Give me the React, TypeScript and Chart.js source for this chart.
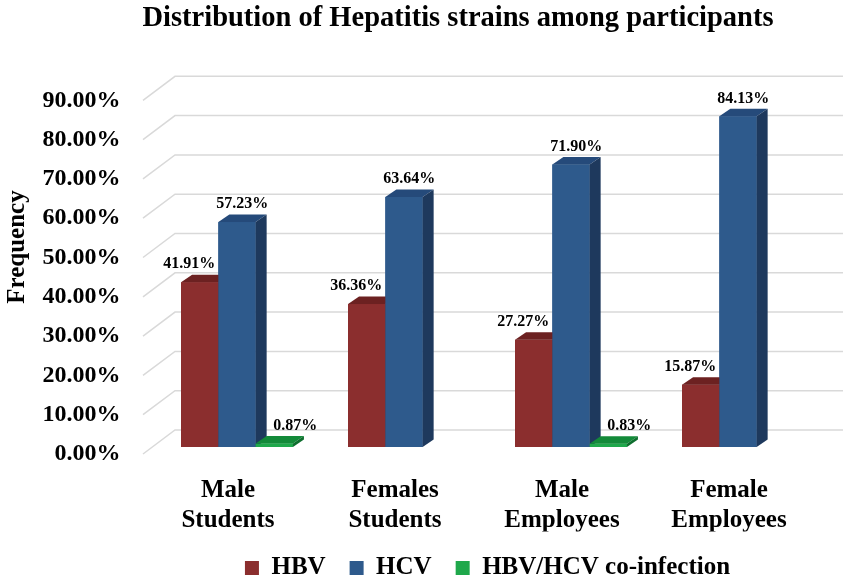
import React, { useEffect, useRef } from "react";
import { Chart, registerables } from "chart.js";

Chart.register(...registerables);

const categories: string[][] = [
  ["Male", "Students"],
  ["Females", "Students"],
  ["Male", "Employees"],
  ["Female", "Employees"],
];
const hbvValues = [41.91, 36.36, 27.27, 15.87];
const hcvValues = [57.23, 63.64, 71.9, 84.13];
const coinfectionValues = [0.87, 0, 0.83, 0];
const seriesNames = ["HBV", "HCV", "HBV/HCV co-infection"];
const titleText = "Distribution of Hepatitis strains among participants";
const yAxisTitle = "Frequency";

const FONT = "'Liberation Serif', 'Times New Roman', serif";
const DEPTH_X = 11;
const DEPTH_Y = 7.5;

const faceColors = [
  { front: "#8B2E2E", top: "#6C2121", side: "#5A1B1B" },
  { front: "#2E5A8C", top: "#254A7A", side: "#1E395D" },
  { front: "#1FA84B", top: "#138A39", side: "#0E6E2E" },
];
const labelShift = [-10.5, 5.2, 21];

const wallPlugin = {
  id: "wall",
  beforeDatasetsDraw(chart: any) {
    const { ctx, chartArea, scales } = chart;
    const y = scales.y;
    ctx.save();
    ctx.strokeStyle = "#D9D9D9";
    ctx.lineWidth = 1.5;
    const backX = chartArea.left + 21.5;
    const frontX = chartArea.left - 10.5;
    const rightX = chartArea.right + 21.5;
    y.ticks.forEach((t: any) => {
      const p = y.getPixelForValue(t.value);
      ctx.beginPath();
      ctx.moveTo(frontX, p + 7);
      ctx.lineTo(backX, p - 17);
      ctx.lineTo(rightX, p - 17);
      ctx.stroke();
    });
    ctx.restore();
  },
};

const bar3dPlugin = {
  id: "bar3d",
  afterDatasetsDraw(chart: any) {
    const { ctx } = chart;
    const datasets = chart.data.datasets;
    ctx.save();
    for (let i = 0; i < categories.length; i++) {
      for (let di = 0; di < datasets.length; di++) {
        const v = datasets[di].data[i];
        if (!v) continue;
        const el = chart.getDatasetMeta(di).data[i];
        const colors = faceColors[di];
        const { x, y, base, width } = el.getProps(["x", "y", "base", "width"], true);
        const x0 = x - width / 2;
        const x1 = x + width / 2;
        ctx.fillStyle = colors.front;
        ctx.fillRect(x0, y, width, base - y);
        ctx.fillStyle = colors.top;
        ctx.beginPath();
        ctx.moveTo(x0, y);
        ctx.lineTo(x1, y);
        ctx.lineTo(x1 + DEPTH_X, y - DEPTH_Y);
        ctx.lineTo(x0 + DEPTH_X, y - DEPTH_Y);
        ctx.closePath();
        ctx.fill();
        ctx.fillStyle = colors.side;
        ctx.beginPath();
        ctx.moveTo(x1, y);
        ctx.lineTo(x1 + DEPTH_X, y - DEPTH_Y);
        ctx.lineTo(x1 + DEPTH_X, base - DEPTH_Y);
        ctx.lineTo(x1, base);
        ctx.closePath();
        ctx.fill();
      }
    }
    ctx.restore();
  },
};

const labelsPlugin = {
  id: "valueLabels",
  afterDraw(chart: any) {
    const { ctx } = chart;
    ctx.save();
    ctx.fillStyle = "#000";
    ctx.font = `bold 16px ${FONT}`;
    ctx.textAlign = "center";
    ctx.textBaseline = "middle";
    chart.data.datasets.forEach((ds: any, di: number) => {
      const meta = chart.getDatasetMeta(di);
      meta.data.forEach((el: any, i: number) => {
        const v = ds.data[i];
        if (!v) return;
        const { x, y } = el.getProps(["x", "y"], true);
        ctx.fillText(v.toFixed(2) + "%", x + labelShift[di], y - 18);
      });
    });
    ctx.font = `bold 25px ${FONT}`;
    ctx.translate(18, 247);
    ctx.rotate(-Math.PI / 2);
    ctx.fillText(yAxisTitle, 0, 0);
    ctx.restore();
  },
};

export default function App() {
  const canvasRef = useRef<HTMLCanvasElement | null>(null);

  useEffect(() => {
    if (!canvasRef.current) return;
    Chart.defaults.font.family = FONT;
    Chart.defaults.color = "#000";
    const chart = new Chart(canvasRef.current, {
      type: "bar",
      data: {
        labels: categories,
        datasets: [
          { label: seriesNames[0], data: hbvValues, backgroundColor: faceColors[0].front },
          { label: seriesNames[1], data: hcvValues, backgroundColor: faceColors[1].front },
          { label: seriesNames[2], data: coinfectionValues, backgroundColor: faceColors[2].front },
        ],
      },
      options: {
        animation: false,
        responsive: true,
        maintainAspectRatio: false,
        layout: { padding: { top: 0, left: 94.5, right: 29.5, bottom: -7.5 } },
        datasets: { bar: { barPercentage: 1, categoryPercentage: 0.67, borderWidth: 0 } },
        plugins: {
          title: {
            display: true,
            text: titleText,
            font: { size: 28.5, weight: "bold", lineHeight: 1.2 },
            padding: { top: 1.9, bottom: 57.2 },
            color: "#000",
          },
          legend: {
            position: "bottom",
            fullSize: false,
            labels: {
              boxWidth: 14,
              boxHeight: 14,
              padding: 24,
              font: { size: 25, weight: "bold" },
              color: "#000",
            },
          },
          tooltip: { enabled: false },
        },
        scales: {
          x: {
            grid: { display: false },
            border: { display: false },
            ticks: {
              font: { size: 25, weight: "bold", lineHeight: 1.18 },
              padding: 21.25,
              labelOffset: -9,
              maxRotation: 0,
              autoSkip: false,
              color: "#000",
            },
            afterFit: (s: any) => {
              s.height = 84.5;
            },
          },
          y: {
            min: 0,
            max: 90,
            grid: { display: false },
            border: { display: false },
            ticks: {
              stepSize: 10,
              font: { size: 24, weight: "bold" },
              mirror: true,
              crossAlign: "far",
              padding: -111,
              labelOffset: 7,
              color: "#000",
              callback: (v: any) => Number(v).toFixed(2) + "%",
            },
            afterFit: (s: any) => {
              s.width = 59;
            },
          },
        },
      },
      plugins: [wallPlugin, bar3dPlugin, labelsPlugin],
    });
    return () => chart.destroy();
  }, []);

  return (
    <div style={{ position: "fixed", left: 0, top: 0, width: 851, height: 583, background: "#fff" }}>
      <canvas ref={canvasRef} />
    </div>
  );
}
